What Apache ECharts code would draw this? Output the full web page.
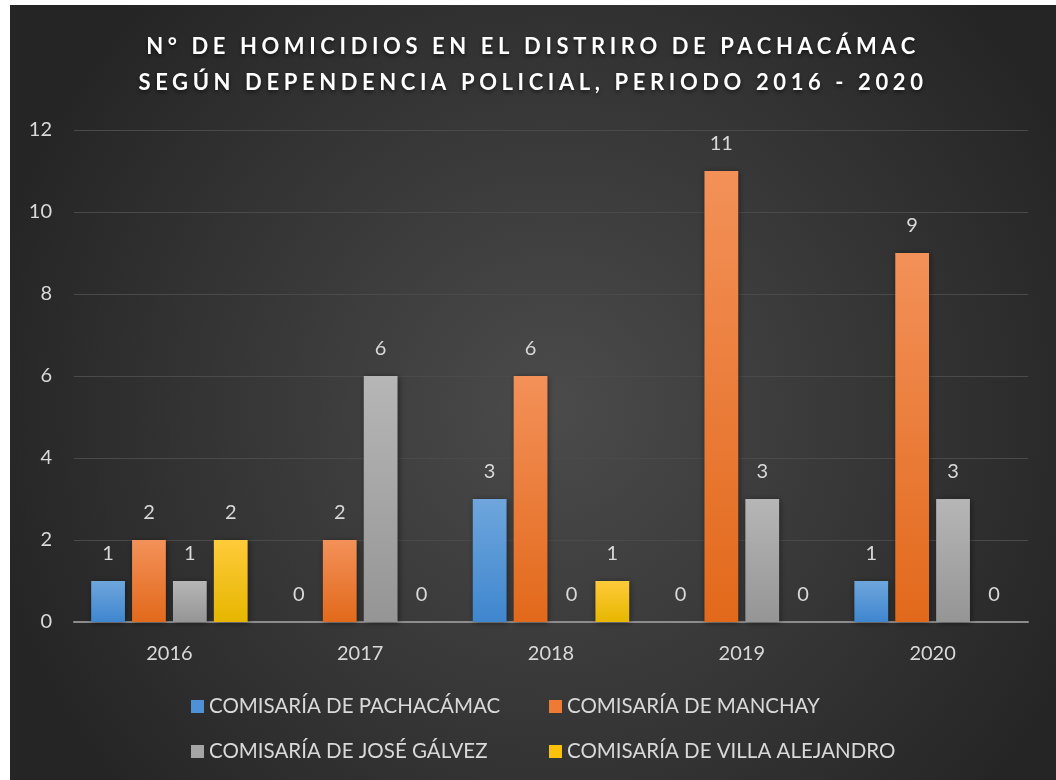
<!DOCTYPE html>
<html>
<head>
<meta charset="utf-8">
<script src="https://cdn.jsdelivr.net/npm/echarts@6/dist/echarts.min.js"></script>
<style>
html,body{margin:0;padding:0;background:#fff;}
#grafico{position:absolute;left:10px;top:5px;width:1046px;height:775px;}
</style>
</head>
<body>
<div id="grafico"></div>
<script>
// datos
var anios = ['2016', '2017', '2018', '2019', '2020'];
var nombres = ['COMISARÍA DE PACHACÁMAC', 'COMISARÍA DE MANCHAY', 'COMISARÍA DE JOSÉ GÁLVEZ', 'COMISARÍA DE VILLA ALEJANDRO'];
var pachacamac = [1, 0, 3, 0, 1];
var manchay = [2, 2, 6, 11, 9];
var joseGalvez = [1, 6, 0, 3, 3];
var villaAlejandro = [2, 0, 1, 0, 0];

var fuente = 'Lato';
var colTexto = '#d9d9d9';

//espaciado de letras para el titulo (el canvas lo soporta, echarts no)
var fontDesc = Object.getOwnPropertyDescriptor(CanvasRenderingContext2D.prototype, 'font');
Object.defineProperty(CanvasRenderingContext2D.prototype, 'font', {
    get: function () { return fontDesc.get.call(this); },
    set: function (v) {
        fontDesc.set.call(this, v);
        if ('letterSpacing' in this) {
            this.letterSpacing = String(v).indexOf('TituloEspaciado') >= 0 ? '4.6px' : '0px';
        }
    }
});

//colores con degradado (arriba, abajo)
function degradado(c1, c2) {
    return new echarts.graphic.LinearGradient(0, 0, 0, 1, [
        {offset: 0, color: c1},
        {offset: 1, color: c2}
    ]);
}
var colores = [
    degradado('#6ea6dc', '#3f86cf'),
    degradado('#f39159', '#e2691b'),
    degradado('#b6b6b6', '#959595'),
    degradado('#ffcb3a', '#e6b600')
];
var coloresLeyenda = ['#4f91d6', '#ee7a33', '#a5a5a5', '#fcc10a'];

function serie(nombre, datos, i) {
    return {
        name: nombre,
        type: 'bar',
        data: datos,
        barGap: '21%',
        barCategoryGap: '18%',
        itemStyle: {
            color: colores[i],
            shadowColor: 'rgba(0,0,0,0.45)',
            shadowBlur: 6,
            shadowOffsetX: 1,
            shadowOffsetY: 1
        },
        label: {
            show: true,
            position: 'top',
            distance: 17,
            color: colTexto,
            fontFamily: fuente,
            fontSize: 20
        }
    };
}

//leyenda: una por elemento para alinear columnas
function leyenda(i, left, top) {
    return {
        data: [{name: nombres[i], itemStyle: {color: coloresLeyenda[i]}}],
        left: left,
        top: top,
        itemWidth: 13,
        itemHeight: 13,
        icon: 'rect',
        textStyle: {color: colTexto, fontFamily: fuente, fontSize: 20.5}
    };
}

var myChart = echarts.init(document.getElementById('grafico'));
var option = {
    backgroundColor: new echarts.graphic.RadialGradient(0.52, 0.52, 0.75, [
        {offset: 0, color: '#4b4b4b'},
        {offset: 1, color: '#252525'}
    ]),
    title: {
        text: 'N° DE HOMICIDIOS EN EL DISTRIRO DE PACHACÁMAC\nSEGÚN DEPENDENCIA POLICIAL, PERIODO 2016 - 2020',
        left: 'center',
        top: 19,
        textStyle: {
            color: '#ffffff',
            fontFamily: 'Lato, TituloEspaciado',
            fontWeight: 'bold',
            fontSize: 22,
            lineHeight: 36,
            textShadowColor: 'rgba(0,0,0,0.6)',
            textShadowBlur: 4,
            textShadowOffsetY: 2
        }
    },
    legend: [
        leyenda(0, 176, 686),
        leyenda(1, 534, 686),
        leyenda(2, 176, 731),
        leyenda(3, 534, 731)
    ],
    grid: {
        left: 64,
        right: 28,
        top: 125,
        bottom: 158
    },
    xAxis: {
        type: 'category',
        data: anios,
        axisTick: {show: false},
        axisLine: {lineStyle: {color: '#8c8c8c', width: 2}},
        axisLabel: {color: colTexto, fontFamily: fuente, fontSize: 20, margin: 22}
    },
    yAxis: {
        type: 'value',
        min: 0,
        max: 12,
        interval: 2,
        axisLine: {show: false},
        axisTick: {show: false},
        splitLine: {lineStyle: {color: '#4a4a4a', width: 1}},
        axisLabel: {color: colTexto, fontFamily: fuente, fontSize: 20, margin: 22}
    },
    series: [
        serie(nombres[0], pachacamac, 0),
        serie(nombres[1], manchay, 1),
        serie(nombres[2], joseGalvez, 2),
        serie(nombres[3], villaAlejandro, 3)
    ]
};
myChart.setOption(option);
</script>
</body>
</html>
